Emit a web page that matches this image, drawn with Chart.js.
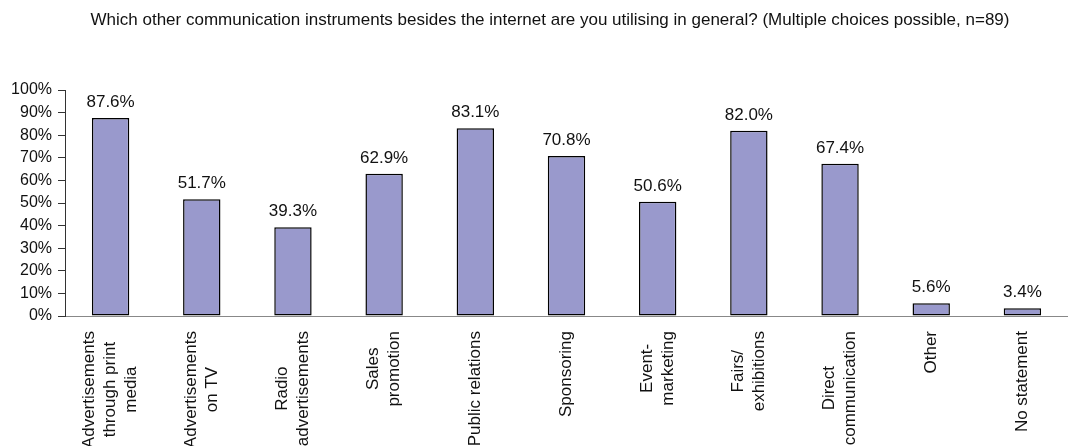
<!DOCTYPE html>
<html>
<head>
<meta charset="utf-8">
<script src="https://cdn.jsdelivr.net/npm/chart.js@4/dist/chart.umd.min.js"></script>
<style>
  html, body { margin: 0; padding: 0; background: #fff; }
  #wrap { width: 1068px; height: 446px; }
</style>
</head>
<body>
<div id="wrap"><canvas id="myChart"></canvas></div>
<script>
// survey answers, share of respondents in percent
var categories = [
    ['Advertisements', 'through print', 'media'],
    ['Advertisements', 'on TV'],
    ['Radio', 'advertisements'],
    ['Sales', 'promotion'],
    'Public relations',
    'Sponsoring',
    ['Event-', 'marketing'],
    ['Fairs/', 'exhibitions'],
    ['Direct', 'communication'],
    'Other',
    'No statement'
];
var shares = [87.6, 51.7, 39.3, 62.9, 83.1, 70.8, 50.6, 82.0, 67.4, 5.6, 3.4];
var yTicks = [0, 10, 20, 30, 40, 50, 60, 70, 80, 90, 100];

var titleText = 'Which other communication instruments besides the internet are you utilising in general? (Multiple choices possible, n=89)';
var barColor = 'rgb(153, 153, 204)';
var fontFamily = '"Liberation Sans", Arial, sans-serif';

// question text on top, a bit right of the canvas centre
const questionTitle = {
    id: 'questionTitle',
    afterDraw(chart) {
        var ctx = chart.ctx;
        ctx.save();
        ctx.font = '17px ' + fontFamily;
        ctx.fillStyle = '#111';
        ctx.textAlign = 'center';
        ctx.textBaseline = 'middle';
        ctx.fillText(titleText, chart.width / 2 + 16, 20);
        ctx.restore();
    }
};

// percent values printed over each bar
const valueLabels = {
    id: 'valueLabels',
    afterDatasetsDraw(chart) {
        var ctx = chart.ctx;
        var meta = chart.getDatasetMeta(0);
        ctx.save();
        ctx.font = '17px ' + fontFamily;
        ctx.fillStyle = '#111';
        ctx.textAlign = 'center';
        ctx.textBaseline = 'alphabetic';
        meta.data.forEach((bar, i) => {
            var v = chart.data.datasets[0].data[i];
            ctx.fillText(v.toFixed(1) + '%', bar.x, bar.y - 11);
        });
        ctx.restore();
    }
};

// vertical category names, lines centred on each other and on the tick
const verticalLabels = {
    id: 'verticalLabels',
    afterDraw(chart) {
        var ctx = chart.ctx;
        var xs = chart.scales.x;
        var top = xs.top + 15;
        var lineH = 21;
        ctx.save();
        ctx.font = '17px ' + fontFamily;
        ctx.fillStyle = '#111';
        ctx.textAlign = 'center';
        ctx.textBaseline = 'middle';
        chart.data.labels.forEach((lab, i) => {
            var lines = Array.isArray(lab) ? lab : [lab];
            var longest = Math.max(...lines.map(l => ctx.measureText(l).width));
            var x = xs.getPixelForTick(i);
            ctx.save();
            ctx.translate(x, top + longest / 2);
            ctx.rotate(-Math.PI / 2);
            lines.forEach((l, j) => {
                ctx.fillText(l, 0, (j - (lines.length - 1) / 2) * lineH);
            });
            ctx.restore();
        });
        ctx.restore();
    }
};

const data = {
    labels: categories,
    datasets: [{
        data: shares,
        backgroundColor: barColor,
        borderColor: '#000',
        borderWidth: 1.5,
        borderSkipped: false,
        categoryPercentage: 1,
        barPercentage: 0.41
    }]
};

const config = {
    type: 'bar',
    data: data,
    plugins: [questionTitle, valueLabels, verticalLabels],
    options: {
        responsive: true,
        maintainAspectRatio: false,
        animation: false,
        layout: { padding: { left: 0, right: 0, top: 90, bottom: 0 } },
        plugins: {
            legend: { display: false },
            tooltip: { enabled: false },
            title: { display: false }
        },
        scales: {
            x: {
                afterFit: scale => { scale.height = 130; },
                grid: { display: false },
                border: { display: true, color: '#888', width: 1 },
                ticks: { display: false }
            },
            y: {
                min: 0,
                max: 100,
                afterFit: scale => { scale.width = 65; },
                afterBuildTicks: scale => { scale.ticks = yTicks.map(v => ({ value: v })); },
                grid: {
                    drawOnChartArea: false,
                    drawTicks: true,
                    tickLength: 7,
                    color: '#333'
                },
                border: { display: true, color: '#333', width: 1 },
                ticks: {
                    color: '#111',
                    font: { family: fontFamily, size: 16 },
                    padding: 6,
                    callback: v => v + '%'
                }
            }
        }
    }
};

var myChart = new Chart(document.getElementById('myChart'), config);
</script>
</body>
</html>
